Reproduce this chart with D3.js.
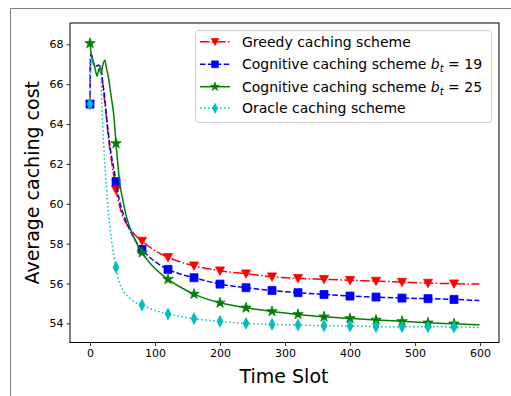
<!DOCTYPE html>
<html lang="en">
<head>
<meta charset="UTF-8">
<title>Average caching cost</title>
<script src="https://d3js.org/d3.v7.min.js"></script>
<style>
  body { margin: 0; background: #fff; font-family: "DejaVu Sans", sans-serif; }
  svg { display: block; }
</style>
</head>
<body>
<svg id="chart" width="511" height="396"></svg>
<script>
// [time slot, average caching cost]
const greedyPts = [[0,65.0],[1,67.5],[3,67.4],[5,67.1],[9,66.9],[13,66.95],[17,66.8],[19,66.2],[22,65.3],[25,64.4],[28,63.4],[32,62.4],[36,61.5],[40,60.7],[45,59.95],[50,59.4],[59,58.85],[69,58.45],[80,58.13],[100,57.65],[120,57.31],[140,57.07],[160,56.89],[200,56.64],[240,56.49],[280,56.34],[320,56.26],[360,56.21],[400,56.16],[440,56.12],[480,56.07],[520,56.02],[560,55.99],[599,55.97]];
const cog19Pts = [[0,65.0],[1,67.5],[3,67.4],[5,67.1],[9,66.9],[13,66.95],[17,66.8],[19,66.2],[22,65.5],[25,64.5],[28,63.6],[32,62.6],[36,61.86],[40,61.11],[45,60.2],[49,59.7],[59,58.85],[69,58.2],[80,57.71],[100,57.1],[120,56.71],[140,56.46],[160,56.29],[200,55.97],[240,55.79],[280,55.65],[320,55.54],[360,55.45],[400,55.37],[440,55.32],[480,55.27],[520,55.24],[560,55.2],[599,55.15]];
const cog25Pts = [[0,68.05],[2,67.5],[4,67.2],[7,66.9],[9,66.6],[11,66.4],[14,66.8],[17,66.55],[20,67.0],[23,67.2],[25,66.85],[28,66.4],[32,65.5],[37,64.3],[40,63.03],[46,61.0],[51,60.1],[56,59.35],[67,58.35],[80,57.55],[100,56.75],[120,56.21],[140,55.8],[160,55.47],[200,55.03],[240,54.78],[280,54.6],[320,54.45],[360,54.33],[400,54.25],[440,54.17],[480,54.1],[520,54.03],[560,53.98],[599,53.93]];
const oraclePts = [[0,65.0],[1,67.3],[3,67.3],[5,67.0],[9,66.9],[13,66.9],[16,66.8],[17,66.6],[18,65.0],[19,64.2],[21,63.0],[23,61.9],[25,60.9],[28,59.7],[33,58.2],[40,56.81],[45,56.1],[50,55.7],[60,55.3],[70,55.05],[80,54.92],[100,54.65],[120,54.47],[160,54.24],[200,54.1],[240,54.0],[280,53.95],[320,53.92],[360,53.88],[400,53.87],[440,53.84],[480,53.83],[520,53.83],[560,53.82],[599,53.79]];

const seriesNames = ["Greedy caching scheme", "Cognitive caching scheme ", "Cognitive caching scheme ", "Oracle caching scheme"];
const budgets = [null, "19", "25", null];
const xTicks = [0, 100, 200, 300, 400, 500, 600];
const yTicks = [54, 56, 58, 60, 62, 64, 66, 68];
const markerEvery = 40;

const svg = d3.select("#chart");
const plotL = 70, plotR = 499, plotT = 23, plotB = 342.5;

// outer frame of the cropped figure
svg.append("path").attr("d", "M10.5,396V8.5H511").attr("fill", "none").attr("stroke", "#808080").attr("stroke-width", 1);

const x = d3.scaleLinear().domain([-30.8, 629.2]).range([plotL, plotR]);
const y = d3.scaleLinear().domain([53.04, 69.07]).range([plotB, plotT]);

const triDown = "M-4.5,-3.8L4.5,-3.8L0,4.5Z";
const thinDiamond = "M0,-5.8L3,0L0,5.8L-3,0Z";
const styles = [
  { data: greedyPts, color: "#ff0000", dash: "9.6,2.4,1.5,2.4", marker: triDown },
  { data: cog19Pts, color: "#0000ff", dash: "5.5,2.4", marker: d3.symbol(d3.symbolSquare, 64)() },
  { data: cog25Pts, color: "#008000", dash: null, marker: d3.symbol(d3.symbolStar, 34)() },
  { data: oraclePts, color: "#00bfbf", dash: "1.5,2.5", marker: thinDiamond }
];

const line = d3.line().x(d => x(d[0])).y(d => y(d[1])).curve(d3.curveMonotoneX);

const plot = svg.append("g");
styles.forEach(s => {
  const g = plot.append("g");
  g.append("path").datum(s.data)
    .attr("d", line)
    .attr("fill", "none")
    .attr("stroke", s.color)
    .attr("stroke-width", 1.5)
    .attr("stroke-dasharray", s.dash);
  g.selectAll("path.m").data(s.data.filter(d => d[0] % markerEvery === 0))
    .join("path").attr("class", "m")
    .attr("d", s.marker)
    .attr("transform", d => `translate(${x(d[0])},${y(d[1])})`)
    .attr("fill", s.color)
    .attr("stroke", s.color)
    .attr("stroke-width", 0.8);
});

// axes
const xAxis = d3.axisBottom(x).tickValues(xTicks).tickSize(3.5).tickPadding(3);
const yAxis = d3.axisLeft(y).tickValues(yTicks).tickSize(3.5).tickPadding(3);
const gx = svg.append("g").attr("transform", `translate(0,${plotB})`).call(xAxis);
const gy = svg.append("g").attr("transform", `translate(${plotL},0)`).call(yAxis);
[gx, gy].forEach(g => {
  g.select(".domain").remove();
  g.selectAll("text").attr("font-family", "DejaVu Sans").attr("font-size", 11).attr("fill", "#000");
  g.selectAll("line").attr("stroke", "#000").attr("stroke-width", 0.8);
});

svg.append("rect")
  .attr("x", plotL).attr("y", plotT)
  .attr("width", plotR - plotL).attr("height", plotB - plotT)
  .attr("fill", "none").attr("stroke", "#000").attr("stroke-width", 1);

svg.append("text")
  .attr("x", (plotL + plotR) / 2 - 0.5).attr("y", 383)
  .attr("text-anchor", "middle")
  .attr("font-size", 19)
  .text("Time Slot");

svg.append("text")
  .attr("transform", `translate(39,${(plotT + plotB) / 2}) rotate(-90)`)
  .attr("text-anchor", "middle")
  .attr("font-size", 19)
  .text("Average caching cost");

// legend
const legend = svg.append("g").attr("transform", "translate(195,30)");
legend.append("rect")
  .attr("x", 0.5).attr("y", 0.5).attr("width", 296).attr("height", 92).attr("rx", 3)
  .attr("fill", "#fff").attr("fill-opacity", 0.8).attr("stroke", "#cccccc");
const rowY = [11.7, 34.3, 56.7, 78.3];
styles.forEach((s, i) => {
  const row = legend.append("g").attr("transform", `translate(0,${rowY[i]})`);
  row.append("line").attr("x1", 5).attr("x2", 35)
    .attr("stroke", s.color).attr("stroke-width", 1.5).attr("stroke-dasharray", s.dash);
  row.append("path").attr("d", s.marker).attr("transform", "translate(20,0) scale(0.85)")
    .attr("fill", s.color).attr("stroke", s.color).attr("stroke-width", 0.8);
  const t = row.append("text").attr("x", 47).attr("y", 5).attr("font-size", 14).text(seriesNames[i]);
  if (budgets[i]) {
    t.append("tspan").attr("font-style", "italic").text("b");
    t.append("tspan").attr("font-style", "italic").attr("font-size", 10).attr("dy", 3).text("t");
    t.append("tspan").attr("dy", -3).text(" = " + budgets[i]);
  }
});
</script>
</body>
</html>
